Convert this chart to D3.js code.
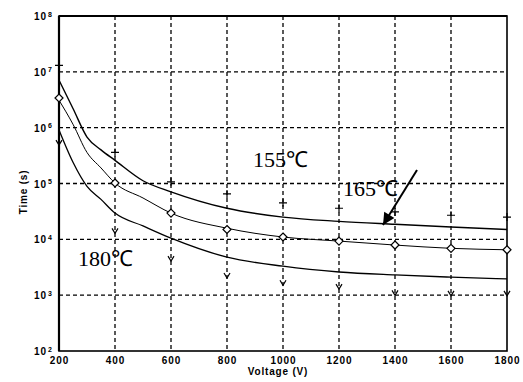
<!DOCTYPE html>
<html><head><meta charset="utf-8">
<script src="https://cdn.jsdelivr.net/npm/d3@7"></script>
<style>body{margin:0;background:#fff}svg{display:block}</style>
</head><body><svg id="c" width="523" height="382"></svg>
<script>
// ---- data ----
const voltages = [200, 400, 600, 800, 1000, 1200, 1400, 1600, 1800];
const meas155 = [1.3e7, 3.6e5, 1.07e5, 6.5e4, 4.5e4, 3.6e4, 3.1e4, 2.7e4, 2.5e4];
const meas165 = [3.4e6, 1.02e5, 2.95e4, 1.5e4, 1.1e4, 9.3e3, 7.9e3, 6.9e3, 6.5e3];
const meas180 = [5.5e5, 1.45e4, 4.6e3, 2.3e3, 1.7e3, 1.45e3, 1.12e3, 1.1e3, 1.1e3];
const fitVoltages = [200, 250, 300, 350, 400, 500, 600, 800, 1000, 1200, 1400, 1600, 1800];
const fit155 = [7.1e6, 2.2e6, 6.8e5, 4.0e5, 2.6e5, 1.12e5, 7.1e4, 3.6e4, 2.5e4, 2.1e4, 1.86e4, 1.66e4, 1.5e4];
const fit165 = [3.1e6, 1.15e6, 3.6e5, 1.9e5, 1.02e5, 5.5e4, 2.95e4, 1.58e4, 1.1e4, 9.3e3, 7.9e3, 6.9e3, 6.5e3];
const fit180 = [9.1e5, 2.4e5, 8.9e4, 5.2e4, 2.95e4, 1.74e4, 1.05e4, 4.8e3, 3.3e3, 2.6e3, 2.3e3, 2.1e3, 1.95e3];
const xTicks = [200, 400, 600, 800, 1000, 1200, 1400, 1600, 1800];
const yTicks = [1e2, 1e3, 1e4, 1e5, 1e6, 1e7, 1e8];
const yTickExp = ["2", "3", "4", "5", "6", "7", "8"];
const labels = ["155℃", "165℃", "180℃"];

// ---- layout ----
const svg = d3.select("#c");
const L = 59, R = 507, T = 16, B = 351;
const x = d3.scaleLinear().domain([200, 1800]).range([L, R]);
const y = d3.scaleLog().domain([1e2, 1e8]).range([B, T]);

// grid
const g = svg.append("g");
g.selectAll(".vg").data(xTicks.slice(1, -1)).join("line")
  .attr("x1", d => x(d)).attr("x2", d => x(d)).attr("y1", T).attr("y2", B)
  .attr("stroke", "#000").attr("stroke-width", 1.3).attr("stroke-dasharray", "4,3");
g.selectAll(".hg").data(yTicks.slice(1, -1)).join("line")
  .attr("y1", d => y(d)).attr("y2", d => y(d)).attr("x1", L).attr("x2", R)
  .attr("stroke", "#000").attr("stroke-width", 1.3).attr("stroke-dasharray", "4,3");

// frame
svg.append("rect").attr("x", L).attr("y", T).attr("width", R - L).attr("height", B - T)
  .attr("fill", "none").attr("stroke", "#000").attr("stroke-width", 1.6);
svg.append("line").attr("x1", L).attr("x2", L).attr("y1", T).attr("y2", B)
  .attr("stroke", "#000").attr("stroke-width", 2.2);
svg.append("line").attr("x1", L).attr("x2", R).attr("y1", T).attr("y2", T)
  .attr("stroke", "#000").attr("stroke-width", 2);

// axes tick labels
const xAxis = d3.axisBottom(x).tickValues(xTicks).tickSize(0).tickPadding(6).tickFormat(d3.format("d"));
const xa = svg.append("g").attr("transform", `translate(0,${B})`).call(xAxis);
xa.select(".domain").remove();
xa.selectAll("text").attr("font-family", "Liberation Sans, Arial, sans-serif")
  .attr("font-weight", "bold").attr("font-size", 10).attr("letter-spacing", 1).attr("fill", "#000");

const yAxis = d3.axisLeft(y).tickValues(yTicks).tickSize(0).tickPadding(0).tickFormat(() => "");
const ya = svg.append("g").attr("transform", `translate(${L},0)`).call(yAxis);
ya.select(".domain").remove();
ya.selectAll(".tick").each(function (d, i) {
  const t = d3.select(this).append("text").attr("x", -6).attr("dy", "0.35em")
    .attr("text-anchor", "end").attr("fill", "#000")
    .attr("font-family", "Liberation Sans, Arial, sans-serif").attr("font-weight", "bold")
    .attr("font-size", 10).attr("letter-spacing", 1);
  t.append("tspan").text("10");
  t.append("tspan").attr("dy", "-0.5em").attr("dx", "1").attr("font-size", 7).text(yTickExp[i]);
});

// axis titles
svg.append("text").attr("x", 278).attr("y", 375).attr("text-anchor", "middle")
  .attr("font-family", "Liberation Sans, Arial, sans-serif").attr("font-weight", "bold")
  .attr("font-size", 10).attr("letter-spacing", 0.8).text("Voltage (V)");
svg.append("text").attr("transform", "translate(27,192) rotate(-90)").attr("text-anchor", "middle")
  .attr("font-family", "Liberation Sans, Arial, sans-serif").attr("font-weight", "bold")
  .attr("font-size", 10).attr("letter-spacing", 0.8).text("Time (s)");

// fitted curves
const line = d3.line().x(d => x(d[0])).y(d => y(d[1])).curve(d3.curveMonotoneX);
[[fit155, 1.4], [fit165, 1.0], [fit180, 1.3]].forEach(([f, w]) => {
  svg.append("path").datum(fitVoltages.map((v, i) => [v, f[i]]))
    .attr("d", line).attr("fill", "none").attr("stroke", "#000").attr("stroke-width", w);
});

// markers
const m = svg.append("g").attr("fill", "none").attr("stroke", "#000").attr("stroke-width", 1.2);
m.selectAll(".p").data(voltages.map((v, i) => [v, meas155[i]])).join("path")
  .attr("d", d => { const cx = x(d[0]), cy = y(d[1]); return `M${cx - 4},${cy}H${cx + 4}M${cx},${cy - 4}V${cy + 4}`; });
m.selectAll(".dm").data(voltages.map((v, i) => [v, meas165[i]])).join("path")
  .attr("fill", "#fff")
  .attr("d", d => { const cx = x(d[0]), cy = y(d[1]); return `M${cx},${cy - 4}L${cx + 4},${cy}L${cx},${cy + 4}L${cx - 4},${cy}Z`; });
m.selectAll(".tv").data(voltages.map((v, i) => [v, meas180[i]])).join("path")
  .attr("d", d => { const cx = x(d[0]), cy = y(d[1]); return `M${cx - 3},${cy - 2}L${cx},${cy + 3}L${cx + 3},${cy - 2}`; });

// labels
const lab = [[253, 167], [343, 196], [78, 266]];
labels.forEach((t, i) => {
  svg.append("text").attr("x", lab[i][0]).attr("y", lab[i][1])
    .attr("font-family", "Liberation Serif, Times New Roman, serif").attr("font-size", 22)
    .attr("fill", "#000").text(t);
});

// arrow
svg.append("defs").append("marker").attr("id", "ah").attr("viewBox", "0 0 10 10")
  .attr("refX", 10).attr("refY", 5).attr("markerWidth", 8).attr("markerHeight", 6)
  .attr("markerUnits", "strokeWidth").attr("orient", "auto")
  .append("path").attr("d", "M0,0L10,5L0,10Z").attr("fill", "#000");
svg.append("line").attr("x1", 417).attr("y1", 170).attr("x2", 383).attr("y2", 225)
  .attr("stroke", "#000").attr("stroke-width", 2).attr("marker-end", "url(#ah)");
</script></body></html>
